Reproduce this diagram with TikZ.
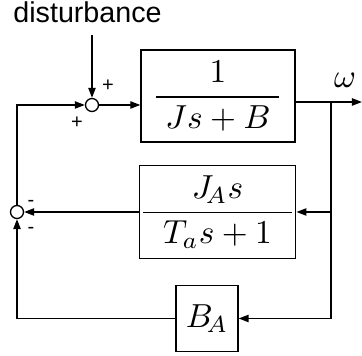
\documentclass[tikz,border=0pt]{standalone}
\usepackage{fontspec}
\newfontfamily\labelfont{Liberation Sans}
\usetikzlibrary{arrows.meta}

\begin{document}
\begin{tikzpicture}[x=0.3pt, y=-0.3pt,
        block/.style={rectangle, draw=black, line width=0.4pt, inner sep=0pt, align=center},
        sum/.style={circle, draw=black, line width=0.4pt, fill=white, minimum size=3.9pt, inner sep=0pt},
        sign/.style={font=\labelfont\fontsize{6}{7}\selectfont, inner sep=0pt},
        arrow/.style={line width=0.4pt, ->, >={Triangle[length=3pt,width=2.2pt]}}
    ]
        \useasboundingbox (0,0) rectangle (362,356);

        \node[font=\labelfont\fontsize{8.6}{10}\selectfont, anchor=base] (dist) at (87.5,23) {disturbance};
        \node[sum] (sum1) at (92,105) {};
        \node[block, minimum width=46.2pt, minimum height=27.6pt] (plant) at (218,96) {$\displaystyle\frac{1}{\hspace{2.7pt}Js+B\hspace{2.7pt}}$};
        \node[block, minimum width=45.9pt, minimum height=27.9pt] (inertia) at (217.5,212) {$\displaystyle\frac{J_{\!A}s}{\hspace{6pt}T_as+1\hspace{6pt}}$};
        \node[block, minimum width=18.6pt, minimum height=19.8pt] (damp) at (207,318.5) {$B_{\!A}$};
        \node[sum] (sum2) at (17,212) {};
        \node (omega) at (345,80) {$\omega$};

        \node[sign] (plus1) at (108,86) {+};
        \node[sign] (plus2) at (77,123) {+};
        \node[sign] (minus1) at (31,203) {-};
        \node[sign] (minus2) at (31,230) {-};

        \coordinate (branch) at (331,102);
        \coordinate (yout) at (362,102);

        \draw[arrow] (dist.south -| sum1) -- (sum1);
        \draw[arrow] (sum1) -- (sum1 -| plant.west);
        \draw[arrow] (plant.east |- branch) -- (yout);
        \draw[arrow] (branch) |- (inertia.east);
        \draw[arrow] (branch) |- (damp.east);
        \draw[arrow] (inertia.west) -- (sum2);
        \draw[arrow] (damp.west) -| (sum2);
        \draw[arrow] (sum2) |- (sum1);
    \end{tikzpicture}
\end{document}
